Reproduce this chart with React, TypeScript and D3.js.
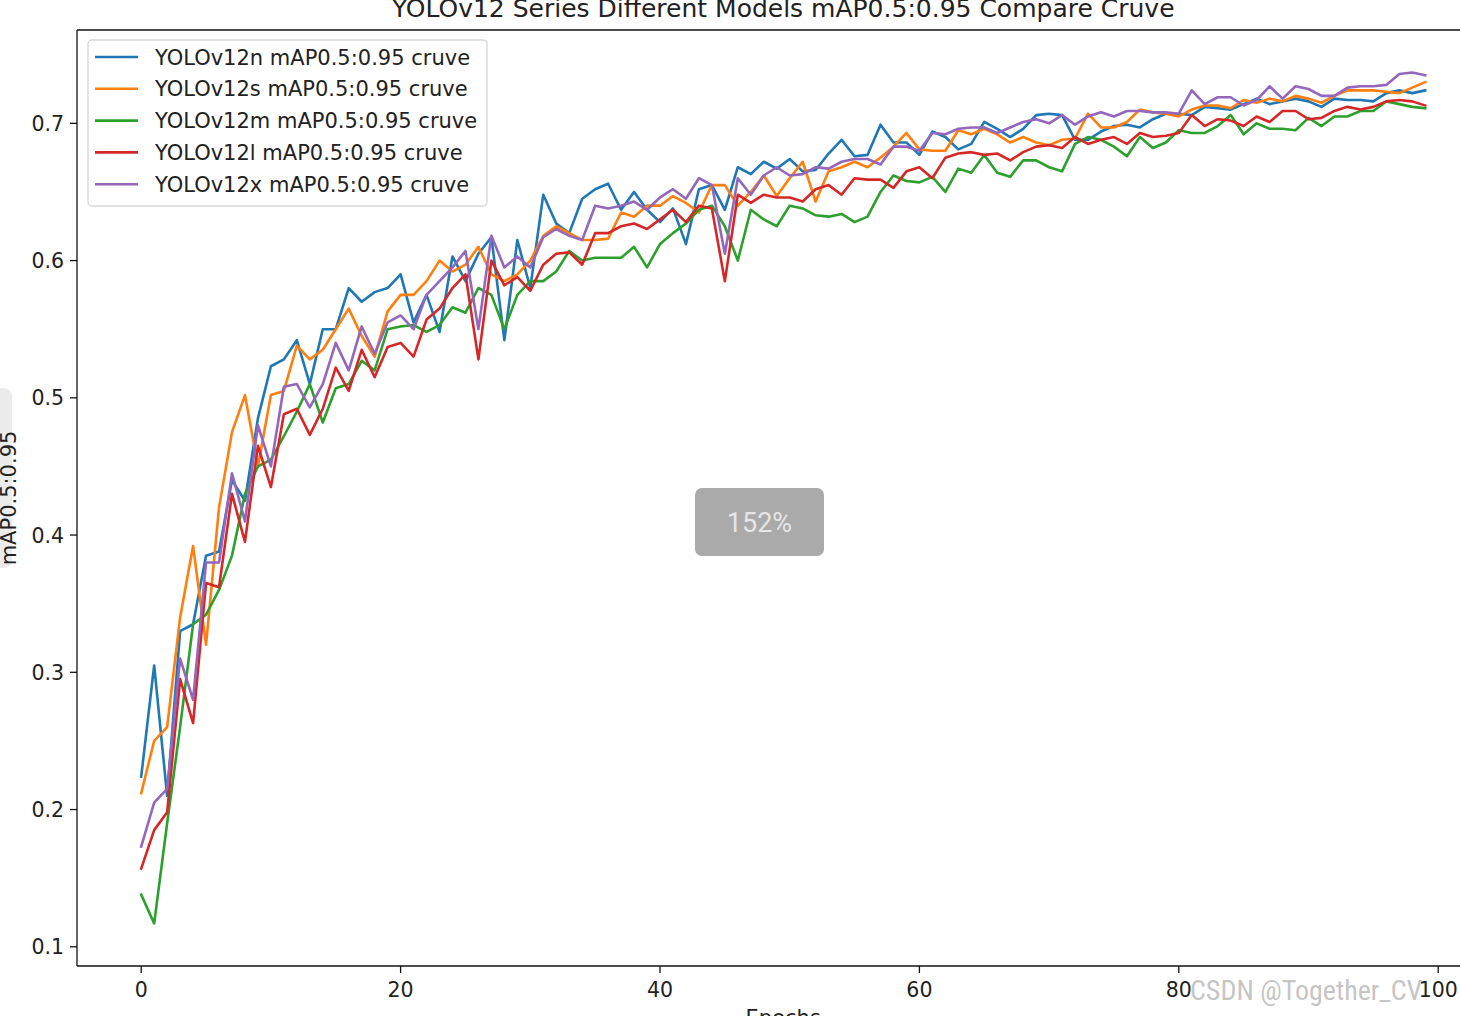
import React, { useEffect, useRef } from "react";
import * as d3 from "d3";

const epochs = d3.range(0, 100);

const yolo12n = [
  0.224, 0.305, 0.21, 0.33, 0.335, 0.385, 0.388, 0.44, 0.425, 0.485,
  0.523, 0.528, 0.542, 0.51, 0.55, 0.55, 0.58, 0.57, 0.577, 0.58,
  0.59, 0.555, 0.575, 0.548, 0.603, 0.585, 0.605, 0.617, 0.542, 0.615,
  0.58, 0.648, 0.627, 0.62, 0.645, 0.652, 0.656, 0.637, 0.65, 0.637,
  0.628, 0.638, 0.612, 0.652, 0.655, 0.637, 0.668, 0.663, 0.672, 0.667,
  0.674, 0.665, 0.666, 0.678, 0.688, 0.676, 0.677, 0.699, 0.686, 0.686,
  0.677, 0.694, 0.69, 0.681, 0.685, 0.701, 0.696, 0.69, 0.696, 0.706,
  0.707, 0.706, 0.688, 0.688, 0.694, 0.698, 0.699, 0.697, 0.703, 0.707,
  0.707, 0.706, 0.712, 0.711, 0.71, 0.714, 0.718, 0.714, 0.716, 0.718,
  0.716, 0.712, 0.718, 0.717, 0.717, 0.716, 0.722, 0.724, 0.722, 0.724,
];

const yolo12s = [
  0.212, 0.25, 0.26, 0.34, 0.392, 0.32, 0.42, 0.475, 0.502, 0.45,
  0.502, 0.505, 0.538, 0.528, 0.535, 0.55, 0.565, 0.545, 0.53, 0.563,
  0.575, 0.575, 0.585, 0.6, 0.592, 0.597, 0.61, 0.59, 0.585, 0.59,
  0.6, 0.618, 0.625, 0.62, 0.615, 0.615, 0.616, 0.635, 0.632, 0.64,
  0.64, 0.647, 0.642, 0.635, 0.655, 0.655, 0.64, 0.65, 0.662, 0.647,
  0.66, 0.672, 0.643, 0.665, 0.668, 0.672, 0.668, 0.675, 0.683, 0.693,
  0.681, 0.68, 0.68, 0.695, 0.692, 0.696, 0.692, 0.686, 0.69, 0.686,
  0.684, 0.688, 0.689, 0.707, 0.697, 0.697, 0.701, 0.71, 0.708, 0.707,
  0.705, 0.71, 0.713, 0.713, 0.711, 0.717, 0.715, 0.718, 0.716, 0.72,
  0.718, 0.715, 0.72, 0.724, 0.724, 0.724, 0.723, 0.722, 0.726, 0.73,
];

const yolo12m = [
  0.138, 0.117, 0.19, 0.26, 0.335, 0.342, 0.36, 0.385, 0.43, 0.45,
  0.455, 0.472, 0.49, 0.51, 0.482, 0.507, 0.51, 0.527, 0.52, 0.55,
  0.552, 0.553, 0.548, 0.553, 0.566, 0.562, 0.58, 0.575, 0.55, 0.575,
  0.585, 0.585, 0.592, 0.607, 0.6, 0.602, 0.602, 0.602, 0.61, 0.595,
  0.612, 0.62, 0.627, 0.637, 0.64, 0.625, 0.6, 0.637, 0.63, 0.625,
  0.64, 0.638, 0.633, 0.632, 0.634, 0.628, 0.632, 0.65, 0.662, 0.658,
  0.657, 0.661, 0.65, 0.667, 0.664, 0.677, 0.664, 0.661, 0.673, 0.673,
  0.668, 0.665, 0.685, 0.69, 0.688, 0.683, 0.676, 0.69, 0.682, 0.686,
  0.695, 0.693, 0.693, 0.698, 0.706, 0.692, 0.7, 0.696, 0.696, 0.695,
  0.704, 0.698, 0.705, 0.705, 0.709, 0.709, 0.716, 0.714, 0.712, 0.711,
];

const yolo12l = [
  0.157, 0.185, 0.198, 0.295, 0.263, 0.365, 0.362, 0.43, 0.395, 0.465,
  0.435, 0.488, 0.492, 0.473, 0.492, 0.522, 0.505, 0.535, 0.515, 0.537,
  0.54, 0.53, 0.557, 0.565, 0.58, 0.59, 0.528, 0.6, 0.582, 0.588,
  0.578, 0.597, 0.605, 0.606, 0.597, 0.62, 0.62, 0.625, 0.627, 0.623,
  0.63, 0.637, 0.628, 0.64, 0.638, 0.585, 0.648, 0.642, 0.648, 0.646,
  0.646, 0.643, 0.652, 0.655, 0.648, 0.66, 0.659, 0.659, 0.653, 0.665,
  0.668, 0.66, 0.675, 0.678, 0.679, 0.677, 0.678, 0.673, 0.679, 0.683,
  0.684, 0.682, 0.69, 0.685, 0.688, 0.69, 0.685, 0.693, 0.69, 0.691,
  0.693, 0.706, 0.698, 0.703, 0.702, 0.698, 0.705, 0.701, 0.709, 0.709,
  0.703, 0.704, 0.709, 0.712, 0.71, 0.712, 0.716, 0.717, 0.716, 0.713,
];

const yolo12x = [
  0.173, 0.205, 0.215, 0.31, 0.28, 0.38, 0.38, 0.445, 0.41, 0.48,
  0.45, 0.508, 0.51, 0.493, 0.51, 0.54, 0.52, 0.552, 0.532, 0.555,
  0.56, 0.55, 0.575, 0.585, 0.595, 0.607, 0.55, 0.618, 0.595, 0.603,
  0.595, 0.617, 0.623, 0.618, 0.615, 0.64, 0.638, 0.64, 0.643, 0.637,
  0.646, 0.652, 0.645, 0.66, 0.655, 0.605, 0.66, 0.648, 0.662, 0.668,
  0.662, 0.663, 0.668, 0.667, 0.672, 0.674, 0.674, 0.67, 0.683, 0.683,
  0.68, 0.693, 0.692, 0.696, 0.697, 0.697, 0.693, 0.697, 0.701, 0.703,
  0.7, 0.706, 0.699, 0.705, 0.708, 0.705, 0.709, 0.709, 0.708, 0.708,
  0.707, 0.724, 0.714, 0.719, 0.719, 0.713, 0.717, 0.727, 0.718, 0.727,
  0.725, 0.72, 0.72, 0.726, 0.727, 0.727, 0.728, 0.736, 0.737, 0.735,
];

const seriesNames = [
  "YOLOv12n mAP0.5:0.95 cruve",
  "YOLOv12s mAP0.5:0.95 cruve",
  "YOLOv12m mAP0.5:0.95 cruve",
  "YOLOv12l mAP0.5:0.95 cruve",
  "YOLOv12x mAP0.5:0.95 cruve",
];
const seriesValues = [yolo12n, yolo12s, yolo12m, yolo12l, yolo12x];
const seriesColors = ["#1f77b4", "#ff7f0e", "#2ca02c", "#d62728", "#9467bd"];

const xTicks = [0, 20, 40, 60, 80, 100];
const yTicks = [0.1, 0.2, 0.3, 0.4, 0.5, 0.6, 0.7];

const W = 1460;
const H = 1016;
const FONT = "DejaVu Sans, sans-serif";

export default function App() {
  const ref = useRef<SVGSVGElement | null>(null);

  useEffect(() => {
    const svg = d3.select(ref.current);
    svg.selectAll("*").remove();

    const left = 77, top = 30, bottom = 966;
    const allVals = seriesValues.flat();
    const yMin = d3.min(allVals)!, yMax = d3.max(allVals)!;
    const yPad = (yMax - yMin) * 0.05;
    const xPad = 99 * 0.05;
    const pxPerEpoch = 12.97;
    const right = left + (99 + 2 * xPad) * pxPerEpoch;
    const cx = (left + right) / 2;

    const x = d3.scaleLinear().domain([-xPad, 99 + xPad]).range([left, right]);
    const y = d3.scaleLinear().domain([yMin - yPad, yMax + yPad]).range([bottom, top]);

    svg.append("rect").attr("width", W).attr("height", H).attr("fill", "#fff");

    // title
    svg.append("text")
      .attr("x", cx).attr("y", 17)
      .attr("text-anchor", "middle")
      .attr("font-family", FONT).attr("font-size", 25).attr("fill", "#222")
      .text("YOLOv12 Series Different Models mAP0.5:0.95 Compare Cruve");

    const g = svg.append("g");
    const line = d3.line<number>().x((_, i) => x(epochs[i])).y((d) => y(d));
    seriesValues.forEach((vals, k) => {
      g.append("path")
        .datum(vals)
        .attr("d", line)
        .attr("fill", "none")
        .attr("stroke", seriesColors[k])
        .attr("stroke-width", 2.6)
        .attr("stroke-linejoin", "round")
        .attr("stroke-linecap", "square");
    });

    // spines
    const sp = svg.append("g").attr("stroke", "#111").attr("stroke-width", 1.3);
    sp.append("line").attr("x1", left).attr("x2", left).attr("y1", top).attr("y2", bottom);
    sp.append("line").attr("x1", left).attr("x2", right).attr("y1", bottom).attr("y2", bottom);
    sp.append("line").attr("x1", left).attr("x2", right).attr("y1", top).attr("y2", top);
    sp.append("line").attr("x1", right).attr("x2", right).attr("y1", top).attr("y2", bottom);

    // x ticks
    xTicks.forEach((t) => {
      svg.append("line").attr("x1", x(t)).attr("x2", x(t))
        .attr("y1", bottom).attr("y2", bottom + 7)
        .attr("stroke", "#111").attr("stroke-width", 1.3);
      svg.append("text").attr("x", x(t)).attr("y", bottom + 31)
        .attr("text-anchor", "middle").attr("font-family", FONT)
        .attr("font-size", 20.5).attr("fill", "#222").text(String(t));
    });
    // y ticks
    yTicks.forEach((t) => {
      svg.append("line").attr("x1", left - 7).attr("x2", left)
        .attr("y1", y(t)).attr("y2", y(t))
        .attr("stroke", "#111").attr("stroke-width", 1.3);
      svg.append("text").attr("x", left - 13).attr("y", y(t) + 7.5)
        .attr("text-anchor", "end").attr("font-family", FONT)
        .attr("font-size", 20.5).attr("fill", "#222").text(t.toFixed(1));
    });

    // axis labels
    svg.append("text").attr("x", cx).attr("y", 1025)
      .attr("text-anchor", "middle").attr("font-family", FONT)
      .attr("font-size", 21).attr("fill", "#222").text("Epochs");

    svg.append("rect").attr("x", -10).attr("y", 388).attr("width", 22).attr("height", 180)
      .attr("rx", 8).attr("fill", "#ececec");
    svg.append("text")
      .attr("transform", `translate(16, ${(top + bottom) / 2}) rotate(-90)`)
      .attr("text-anchor", "middle").attr("font-family", FONT)
      .attr("font-size", 21).attr("fill", "#222").text("mAP0.5:0.95");

    // legend
    const lg = svg.append("g");
    lg.append("rect").attr("x", 88).attr("y", 40).attr("width", 399).attr("height", 166)
      .attr("rx", 4).attr("fill", "#fff").attr("fill-opacity", 0.85)
      .attr("stroke", "#d6d6d6").attr("stroke-width", 1.3);
    seriesNames.forEach((name, k) => {
      const yy = 57 + k * 31.8;
      lg.append("line").attr("x1", 95).attr("x2", 138).attr("y1", yy).attr("y2", yy)
        .attr("stroke", seriesColors[k]).attr("stroke-width", 2.6);
      lg.append("text").attr("x", 155).attr("y", yy + 7.5)
        .attr("font-family", FONT).attr("font-size", 21).attr("fill", "#222").text(name);
    });

    // zoom overlay
    svg.append("rect").attr("x", 695).attr("y", 488).attr("width", 129).attr("height", 68)
      .attr("rx", 7).attr("fill", "#aaaaaa");
    svg.append("text").attr("x", 759.5).attr("y", 532).attr("text-anchor", "middle")
      .attr("font-family", "Roboto, sans-serif").attr("font-size", 27).attr("fill", "#e6e6e6")
      .text("152%");

    // watermark
    svg.append("text").attr("x", 1190).attr("y", 1000)
      .attr("font-family", "Liberation Sans Narrow, Roboto Condensed, sans-serif")
      .attr("font-size", 28).attr("fill", "#bdbdbd").attr("fill-opacity", 0.9)
      .text("CSDN @Together_CV");
  }, []);

  return (
    <svg
      ref={ref}
      width={W}
      height={H}
      style={{ position: "absolute", left: 0, top: 0, display: "block" }}
    />
  );
}
